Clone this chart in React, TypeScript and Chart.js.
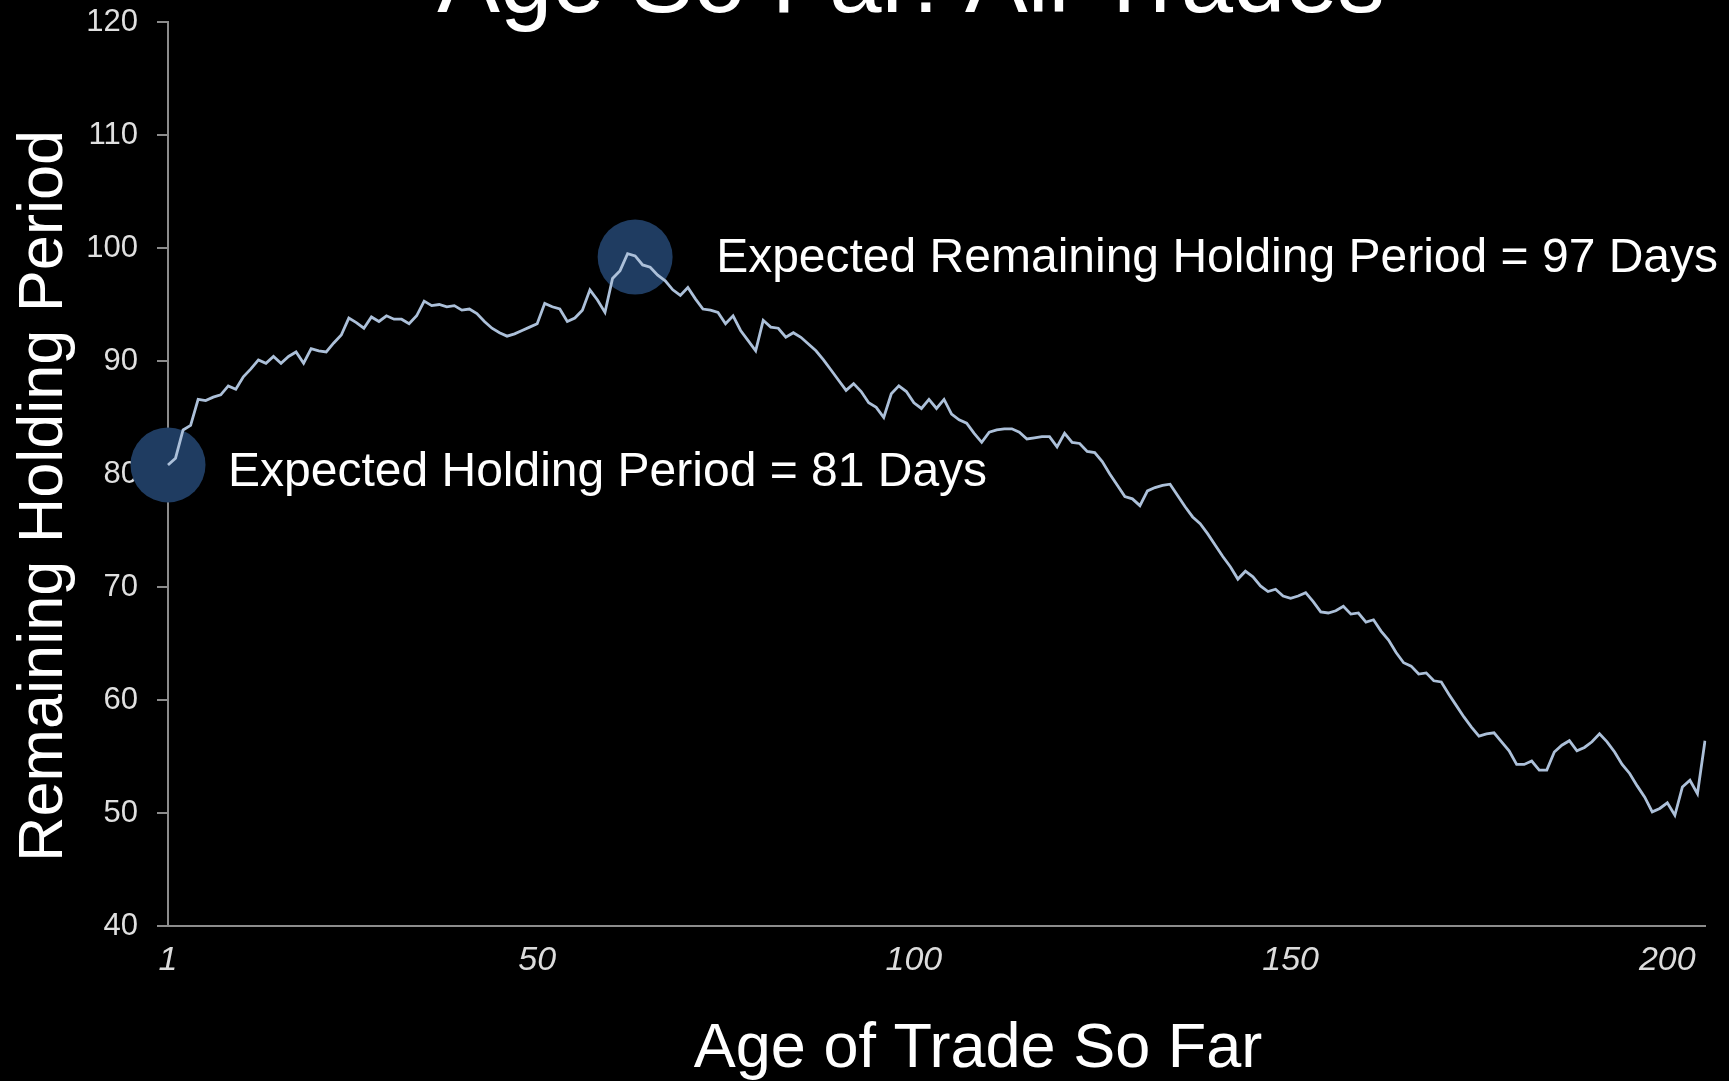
import { useEffect, useRef } from 'react';
import { Chart, registerables } from 'chart.js';

Chart.register(...registerables);

// Remaining holding period (days) by age of trade (days), ages 1..205
const remainingHolding: number[] = [
  80.8, 81.4, 83.9, 84.3, 86.6, 86.5, 86.8, 87.0, 87.8, 87.5,
  88.6, 89.3, 90.1, 89.8, 90.4, 89.8, 90.4, 90.8, 89.8, 91.1,
  90.9, 90.8, 91.6, 92.3, 93.8, 93.4, 92.9, 93.9, 93.5, 94.0,
  93.7, 93.7, 93.3, 94.0, 95.3, 94.9, 95.0, 94.8, 94.9, 94.5,
  94.6, 94.2, 93.5, 92.9, 92.5, 92.2, 92.4, 92.7, 93.0, 93.3,
  95.1, 94.8, 94.6, 93.5, 93.8, 94.5, 96.3, 95.4, 94.3, 97.3,
  98.0, 99.5, 99.3, 98.5, 98.3, 97.6, 97.1, 96.3, 95.8, 96.5,
  95.5, 94.6, 94.5, 94.3, 93.3, 94.0, 92.7, 91.8, 90.9, 93.6,
  93.0, 92.9, 92.1, 92.5, 92.1, 91.5, 90.9, 90.1, 89.2, 88.3,
  87.4, 88.0, 87.3, 86.3, 85.9, 85.0, 87.1, 87.8, 87.3, 86.3,
  85.8, 86.6, 85.8, 86.6, 85.3, 84.8, 84.5, 83.6, 82.8, 83.7,
  83.9, 84.0, 84.0, 83.7, 83.1, 83.2, 83.3, 83.3, 82.4, 83.6,
  82.8, 82.7, 82.0, 81.9, 81.1, 80.0, 79.0, 78.0, 77.8, 77.2,
  78.5, 78.8, 79.0, 79.1, 78.1, 77.1, 76.2, 75.6, 74.7, 73.7,
  72.7, 71.8, 70.7, 71.4, 70.9, 70.1, 69.6, 69.8, 69.2, 69.0,
  69.2, 69.5, 68.7, 67.8, 67.7, 67.9, 68.3, 67.6, 67.7, 66.9,
  67.1, 66.1, 65.3, 64.2, 63.3, 63.0, 62.3, 62.4, 61.7, 61.6,
  60.5, 59.5, 58.5, 57.6, 56.8, 57.0, 57.1, 56.3, 55.5, 54.3,
  54.3, 54.6, 53.8, 53.8, 55.4, 56.0, 56.4, 55.5, 55.8, 56.3,
  57.0, 56.3, 55.4, 54.3, 53.5, 52.4, 51.4, 50.1, 50.4, 50.9,
  49.8, 52.3, 52.9, 51.7, 56.4,
];

const ages: string[] = remainingHolding.map((_, i) => String(i + 1));

const xTickLabels: number[] = [1, 50, 100, 150, 200];
const yMin = 40;
const yMax = 120;
const yStep = 10;

const markerAges: number[] = [1, 63];
const markerValues: number[] = [80.8, 99.2];
const markerLabels: string[] = [
  'Expected Holding Period = 81 Days',
  'Expected Remaining Holding Period = 97 Days',
];

const chartTitle = 'Age So Far: All Trades';
const xTitle = 'Age of Trade So Far';
const yTitle = 'Remaining Holding Period';

const FONT = "'Liberation Sans', Arial, Helvetica, sans-serif";
const W = 1729;
const H = 1081;

export default function App() {
  const ref = useRef<HTMLCanvasElement | null>(null);

  useEffect(() => {
    const canvas = ref.current;
    if (!canvas) return;
    document.body.style.margin = '0';
    document.body.style.background = '#000';

    const labelDx = [60, 81];
    const labelDy = [21, 15];
    const overlay = {
      id: 'overlay',
      beforeDatasetsDraw(chart: any) {
        const { ctx, scales } = chart;
        const x = scales.x;
        const y = scales.y;
        ctx.save();
        ctx.fillStyle = '#1f3c61';
        markerAges.forEach((age, i) => {
          const px = x.getPixelForValue(age - 1);
          const py = y.getPixelForValue(markerValues[i]);
          ctx.beginPath();
          ctx.arc(px, py, 37.5, 0, Math.PI * 2);
          ctx.fill();
        });
        ctx.restore();
      },
      afterDraw(chart: any) {
        const { ctx, scales } = chart;
        const x = scales.x;
        const y = scales.y;
        ctx.save();
        ctx.fillStyle = '#ffffff';
        ctx.textBaseline = 'alphabetic';
        // marker labels
        ctx.font = `48px ${FONT}`;
        ctx.textAlign = 'left';
        markerAges.forEach((age, i) => {
          const px = x.getPixelForValue(age - 1);
          const py = y.getPixelForValue(markerValues[i]);
          ctx.fillText(markerLabels[i], px + labelDx[i], py + labelDy[i]);
        });
        // chart title (mostly cropped at top)
        ctx.font = `94px ${FONT}`;
        ctx.textAlign = 'center';
        ctx.fillText(chartTitle, 911, 12);
        // x axis title
        ctx.font = `63px ${FONT}`;
        ctx.fillText(xTitle, 978, 1067);
        // y axis title
        ctx.translate(62, 496);
        ctx.rotate(-Math.PI / 2);
        ctx.fillText(yTitle, 0, 0);
        ctx.restore();
      },
    };

    const chart = new Chart(canvas, {
      type: 'line',
      data: {
        labels: ages,
        datasets: [
          {
            data: remainingHolding,
            borderColor: '#acc0d9',
            borderWidth: 2.8,
            pointRadius: 0,
            tension: 0,
            fill: false,
          },
        ],
      },
      options: {
        animation: false,
        responsive: false,
        devicePixelRatio: 1,
        layout: { padding: { top: 22, right: 24, bottom: 0, left: 0 } },
        plugins: {
          legend: { display: false },
          tooltip: { enabled: false },
          title: { display: false },
        },
        scales: {
          x: {
            type: 'category',
            offset: false,
            grid: { display: false, drawTicks: false },
            border: { display: true, color: '#8c8c8c', width: 2 },
            ticks: {
              autoSkip: false,
              maxRotation: 0,
              minRotation: 0,
              padding: 14,
              color: '#dcdcdc',
              font: { family: FONT, size: 34, style: 'italic' },
              callback: (_v: any, idx: number) =>
                xTickLabels.includes(idx + 1) ? String(idx + 1) : null,
            },
            afterFit: (scale: any) => {
              scale.height = H - 926;
              scale.paddingLeft = 0;
              scale.paddingRight = 0;
            },
          },
          y: {
            min: yMin,
            max: yMax,
            grid: {
              drawOnChartArea: false,
              drawTicks: true,
              tickLength: 11,
              color: '#8c8c8c',
              lineWidth: 2,
            },
            border: { display: true, color: '#8c8c8c', width: 2 },
            ticks: {
              stepSize: yStep,
              padding: 19,
              color: '#e0e0e0',
              font: { family: FONT, size: 31 },
            },
            afterFit: (scale: any) => {
              scale.width = 168;
              scale.paddingTop = 0;
              scale.paddingBottom = 0;
            },
          },
        },
      },
      plugins: [overlay],
    } as any);

    return () => {
      chart.destroy();
    };
  }, []);

  return (
    <div style={{ position: 'fixed', left: 0, top: 0, width: W, height: H, background: '#000' }}>
      <canvas ref={ref} width={W} height={H} style={{ display: 'block', width: W, height: H }} />
    </div>
  );
}
